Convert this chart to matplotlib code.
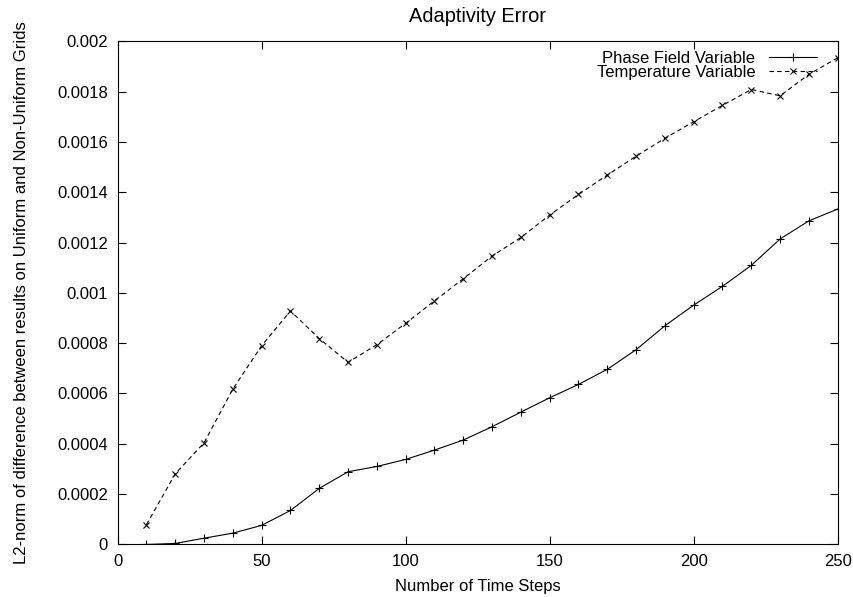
import matplotlib
matplotlib.use("Agg")
import matplotlib.pyplot as plt
from matplotlib.ticker import FuncFormatter, MultipleLocator

plt.rcParams["font.family"] = ["Liberation Sans", "DejaVu Sans"]
plt.rcParams["font.size"] = 12

steps = [10, 20, 30, 40, 50, 60, 70, 80, 90, 100, 110, 120, 130,
         140, 150, 160, 170, 180, 190, 200, 210, 220, 230, 240, 250]
phase_err = [0.0, 0.000004, 0.000025, 0.000045, 0.000076, 0.000135, 0.000223,
             0.000289, 0.00031, 0.000338, 0.000375, 0.000415, 0.000468, 0.000526,
             0.000583, 0.000636, 0.000696, 0.000774, 0.000869, 0.000951, 0.001026,
             0.001109, 0.001214, 0.001286, 0.001333]
temp_err = [0.000079, 0.000281, 0.000404, 0.000618, 0.00079, 0.000928, 0.000818,
            0.000724, 0.000794, 0.000879, 0.000968, 0.001056, 0.001146, 0.00122,
            0.001309, 0.001391, 0.001468, 0.001543, 0.001614, 0.00168, 0.001745,
            0.001808, 0.001783, 0.001868, 0.001934]

fig = plt.figure(figsize=(8.54, 5.97), dpi=100)
ax = fig.add_axes([0.1378, 0.088, 0.8431, 0.843])

ax.plot(steps, phase_err, color="black", linewidth=0.8, marker="+",
        markersize=6, markeredgewidth=0.8, label="Phase Field Variable")
ax.plot(steps, temp_err, color="black", linewidth=0.8, linestyle=(0, (4, 3)),
        marker="x", markersize=5, markeredgewidth=0.8, label="Temperature Variable")

ax.set_xlim(0, 250)
ax.set_ylim(0, 0.002)
ax.xaxis.set_major_locator(MultipleLocator(50))
ax.yaxis.set_major_locator(MultipleLocator(0.0002))
ax.yaxis.set_major_formatter(FuncFormatter(lambda v, p: "%g" % round(v, 6)))
ax.tick_params(direction="in", top=True, right=True, length=5.5, width=0.8, pad=7)
for s in ax.spines.values():
    s.set_linewidth(0.8)

ax.set_title("Adaptivity Error", pad=14)
ax.set_xlabel("Number of Time Steps", labelpad=7)
ax.set_ylabel("L2-norm of difference between results on Uniform and Non-Uniform Grids")
ax.yaxis.set_label_coords(-0.123, 0.5)

# gnuplot-style key: label first, sample line on the right
ax.legend(loc="upper right", bbox_to_anchor=(0.990, 1.007), frameon=False,
          markerfirst=False, numpoints=1, handlelength=2.9, handletextpad=0.8,
          borderaxespad=0.5, borderpad=0.3, labelspacing=-0.05)

fig.savefig("out.png", dpi=100)
